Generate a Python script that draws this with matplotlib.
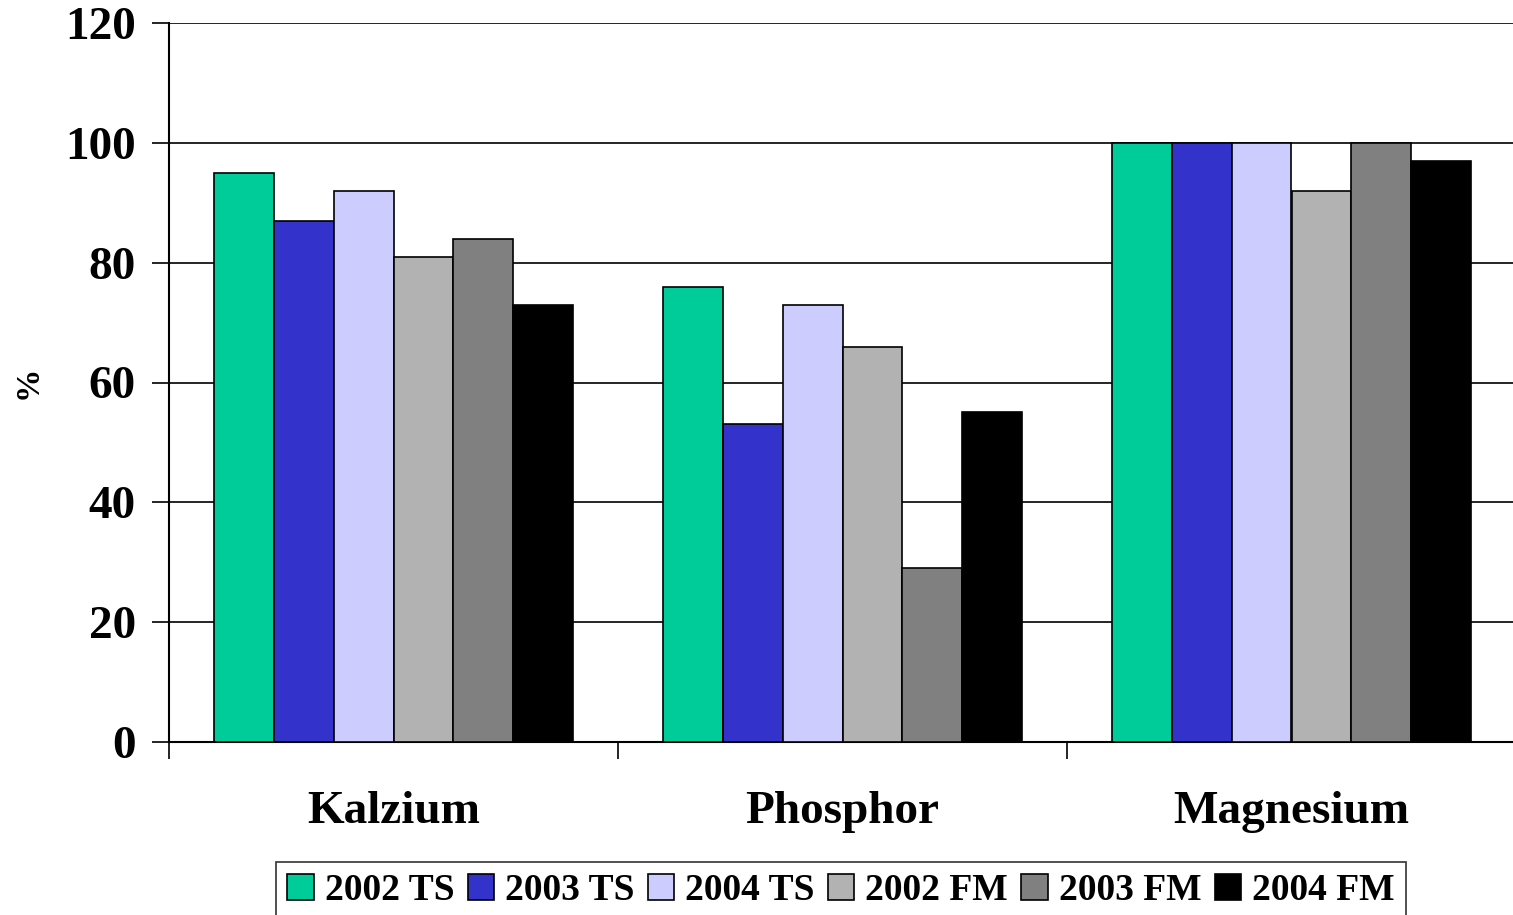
import numpy as np
import matplotlib
matplotlib.use("Agg")
import matplotlib.pyplot as plt

# data
categories = ["Kalzium", "Phosphor", "Magnesium"]
series_labels = ["2002 TS", "2003 TS", "2004 TS", "2002 FM", "2003 FM", "2004 FM"]
values = [
    [95, 76, 100],   # 2002 TS
    [87, 53, 100],   # 2003 TS
    [92, 73, 100],   # 2004 TS
    [81, 66, 92],    # 2002 FM
    [84, 29, 100],   # 2003 FM
    [73, 55, 97],    # 2004 FM
]
colors = ["#00CC99", "#3333CC", "#CCCCFF", "#B2B2B2", "#808080", "#000000"]
y_ticks = [0, 20, 40, 60, 80, 100, 120]

plt.rcParams['font.family'] = ['Liberation Serif', 'DejaVu Serif']
plt.rcParams['font.weight'] = 'bold'

fig = plt.figure(figsize=(15.13, 9.15), dpi=100)
ax = fig.add_axes([169 / 1513, (915 - 742) / 915, 1347 / 1513, (742 - 23) / 915])

x = np.arange(len(categories))
n = len(series_labels)
bw = 0.8 / n
for i, (lab, vals, col) in enumerate(zip(series_labels, values, colors)):
    ax.bar(x - 0.4 + bw * (i + 0.5), vals, width=bw, color=col,
           edgecolor='black', linewidth=1.2, label=lab, zorder=3)

ax.set_xlim(-0.5, len(categories) - 0.5)
ax.set_ylim(0, 120)
ax.set_yticks(y_ticks)
ax.set_yticklabels([str(t) for t in y_ticks], fontsize=34, fontweight='bold')
ax.yaxis.grid(True, color='black', linewidth=1.2, zorder=0)
ax.set_axisbelow(True)

# category boundaries as ticks, names centred between them
ax.set_xticks(np.arange(-0.5, len(categories), 1.0))
ax.set_xticklabels([])
ax.set_xticks(x, minor=True)
ax.set_xticklabels(categories, minor=True, fontsize=34, fontweight='bold')
ax.tick_params(axis='x', which='minor', length=0, pad=35)
ax.tick_params(axis='x', which='major', length=12, width=1.2, direction='out')
ax.tick_params(axis='y', length=12, width=1.2, direction='out', pad=12)

for s in ['top', 'right']:
    ax.spines[s].set_visible(False)
for s in ['left', 'bottom']:
    ax.spines[s].set_linewidth(1.5)

ax.set_ylabel('%', fontsize=24, fontweight='bold')
ax.yaxis.set_label_coords(-0.093, 0.5)

leg = fig.legend(loc='upper center', bbox_to_anchor=(841 / 1513, 1 - 862 / 915),
                 ncol=n, fontsize=27, frameon=True, fancybox=False,
                 handlelength=0.7, handleheight=0.7, handletextpad=0.3,
                 columnspacing=0.35, borderpad=0.3, borderaxespad=0)
leg.get_frame().set_edgecolor('black')
leg.get_frame().set_linewidth(1.2)
for t in leg.get_texts():
    t.set_fontweight('bold')

fig.savefig('out.png', dpi=100)
